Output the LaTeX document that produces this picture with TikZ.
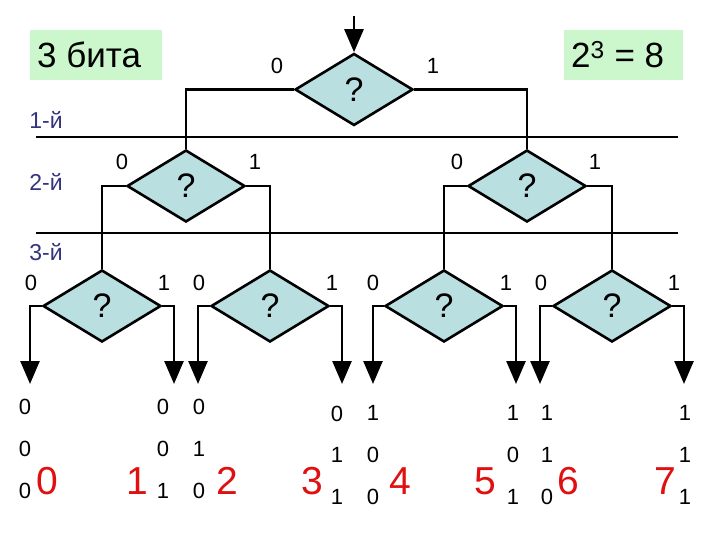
\documentclass[tikz,border=0pt]{standalone}
\usepackage{fontspec}
\setmainfont{Liberation Sans}
\usetikzlibrary{shapes.geometric,arrows.meta}
\definecolor{dfill}{HTML}{BADFE0}
\definecolor{gfill}{HTML}{CCF7CC}
\definecolor{layer}{HTML}{333380}
\definecolor{rednum}{HTML}{E01010}
\tikzset{
  dia/.style={diamond,draw=black,line width=2.6pt,fill=dfill,minimum width=118pt,minimum height=72pt,inner sep=0pt,font=\fontsize{34}{34}\selectfont},
  conn/.style={line width=2.6pt},
  arr/.style={line width=2.6pt,-{Triangle[length=23pt,width=19pt]}},
  hline/.style={line width=2pt},
  br/.style={font=\fontsize{22}{22}\selectfont,inner sep=0pt},
  bit/.style={font=\fontsize{22}{22}\selectfont,inner sep=0pt},
  lay/.style={font=\fontsize{23}{23}\selectfont,text=layer,inner sep=0pt},
  num/.style={font=\fontsize{39}{39}\selectfont,text=rednum,inner sep=0pt},
  gbox/.style={fill=gfill,inner sep=0pt},
  gtext/.style={font=\fontsize{35}{35}\selectfont,inner sep=0pt,anchor=west}
}
\begin{document}
\begin{tikzpicture}[x=1pt,y=-1pt]
\useasboundingbox (0,0) rectangle (720,540);
% boxes
\node[gbox,minimum width=132pt,minimum height=50pt] (bits) at (96,55) {};
\node[gtext] (bitst) at (37,55) {3 бита};
\node[gbox,minimum width=119pt,minimum height=50pt] (eq) at (623.5,55) {};
\node[gtext] (eqt) at (571,55) {2\textsuperscript{3} = 8};
% layer lines
\coordinate (l1a) at (36,137); \coordinate (l1b) at (678,137);
\coordinate (l2a) at (36,233); \coordinate (l2b) at (678,233);
\draw[hline] (l1a) -- (l1b);
\draw[hline] (l2a) -- (l2b);
\node[lay] (t1) at (46,120) {1-й};
\node[lay] (t2) at (46,182) {2-й};
\node[lay] (t3) at (46,252) {3-й};
% diamonds
\node[dia] (d0) at (354,89.5) {?};
\node[dia] (d1) at (186,186) {?};
\node[dia] (d2) at (527,186) {?};
\node[dia] (d3) at (102,306) {?};
\node[dia] (d4) at (270,306) {?};
\node[dia] (d5) at (444,306) {?};
\node[dia] (d6) at (612,306) {?};
% top arrow
\coordinate (start) at (354,16);
\draw[arr] (start) -- (d0.north);
% level connections
\draw[conn] (d0.west) -| (d1.north);
\draw[conn] (d0.east) -| (d2.north);
\draw[conn] (d1.west) -| (d3.north);
\draw[conn] (d1.east) -| (d4.north);
\draw[conn] (d2.west) -| (d5.north);
\draw[conn] (d2.east) -| (d6.north);
% leaves
\coordinate (e0) at (30,384); \coordinate (e1) at (174,384);
\coordinate (e2) at (198,384); \coordinate (e3) at (342,384);
\coordinate (e4) at (373,384); \coordinate (e5) at (516,384);
\coordinate (e6) at (540,384); \coordinate (e7) at (684,384);
\draw[arr] (d3.west) -| (e0);
\draw[arr] (d3.east) -| (e1);
\draw[arr] (d4.west) -| (e2);
\draw[arr] (d4.east) -| (e3);
\draw[arr] (d5.west) -| (e4);
\draw[arr] (d5.east) -| (e5);
\draw[arr] (d6.west) -| (e6);
\draw[arr] (d6.east) -| (e7);
% branch labels
\node[br] (b0a) at (277,66) {0}; \node[br] (b0b) at (433,66) {1};
\node[br] (b1a) at (122,162) {0}; \node[br] (b1b) at (255,162) {1};
\node[br] (b2a) at (457,162) {0}; \node[br] (b2b) at (595,162) {1};
\node[br] (b3a) at (31,283) {0}; \node[br] (b3b) at (164,283) {1};
\node[br] (b4a) at (199,283) {0}; \node[br] (b4b) at (332,283) {1};
\node[br] (b5a) at (373,283) {0}; \node[br] (b5b) at (506,283) {1};
\node[br] (b6a) at (541,283) {0}; \node[br] (b6b) at (674,283) {1};
% bit columns
\node[bit] (c0a) at (25,407) {0}; \node[bit] (c0b) at (25,449) {0}; \node[bit] (c0c) at (25,491) {0};
\node[bit] (c1a) at (163,407) {0}; \node[bit] (c1b) at (163,449) {0}; \node[bit] (c1c) at (163,491) {1};
\node[bit] (c2a) at (199,407) {0}; \node[bit] (c2b) at (199,449) {1}; \node[bit] (c2c) at (199,491) {0};
\node[bit] (c3a) at (337,414) {0}; \node[bit] (c3b) at (337,455) {1}; \node[bit] (c3c) at (337,497) {1};
\node[bit] (c4a) at (373,413) {1}; \node[bit] (c4b) at (373,455) {0}; \node[bit] (c4c) at (373,497) {0};
\node[bit] (c5a) at (513,413) {1}; \node[bit] (c5b) at (513,455) {0}; \node[bit] (c5c) at (513,497) {1};
\node[bit] (c6a) at (547,413) {1}; \node[bit] (c6b) at (547,455) {1}; \node[bit] (c6c) at (547,497) {0};
\node[bit] (c7a) at (685,413) {1}; \node[bit] (c7b) at (685,455) {1}; \node[bit] (c7c) at (685,497) {1};
% red numbers
\node[num] (n0) at (47,481) {0};
\node[num] (n1) at (137,481) {1};
\node[num] (n2) at (227,481) {2};
\node[num] (n3) at (312,481) {3};
\node[num] (n4) at (400,481) {4};
\node[num] (n5) at (485,481) {5};
\node[num] (n6) at (568,481) {6};
\node[num] (n7) at (665,481) {7};
\end{tikzpicture}
\end{document}
